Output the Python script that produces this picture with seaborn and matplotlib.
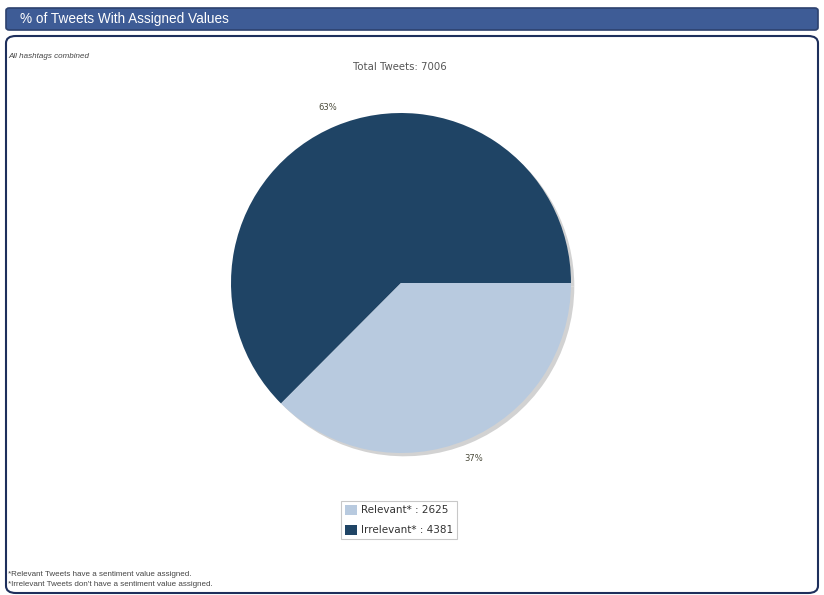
import matplotlib
matplotlib.use("Agg")
import matplotlib.pyplot as plt
import seaborn as sns
from matplotlib.patches import FancyBboxPatch

# data
labels = ["Irrelevant*", "Relevant*"]
counts = [4381, 2625]
colors = ["#1f4465", "#b8cadf"]
legend_order = [1, 0]

total = sum(counts)

sns.set_theme(style="white")
plt.rcParams['font.family'] = ['DejaVu Sans']

W, H = 824, 595
fig = plt.figure(figsize=(W / 100, H / 100), dpi=100)


def fx(px):
    return px / W


def fy(py):
    return 1 - py / H


# header bar
fig.patches.append(FancyBboxPatch((fx(6), fy(30)), fx(812), 22 / H,
                                  boxstyle="round,pad=0,rounding_size=0.004",
                                  transform=fig.transFigure, facecolor="#3e5c96",
                                  edgecolor="#2c416e", linewidth=1.2))
fig.text(fx(20), fy(19), "% of Tweets With Assigned Values", color="white",
         fontsize=9.8, family="Liberation Sans", va="center", ha="left")

# body frame
fig.patches.append(FancyBboxPatch((fx(6), fy(593)), fx(812), 557 / H,
                                  boxstyle="round,pad=0,rounding_size=0.012",
                                  transform=fig.transFigure, facecolor="none",
                                  edgecolor="#1e2f5c", linewidth=1.5, zorder=-1))

fig.text(fx(8), fy(56), "All hashtags combined", fontsize=5.8, style="italic",
         family="Liberation Sans", color="#444444", va="center")
fig.text(fx(400), fy(67), f"Total Tweets: {total}", fontsize=7.3,
         color="#555555", ha="center", va="center")

fig.text(fx(8), fy(574), "*Relevant Tweets have a sentiment value assigned.",
         fontsize=5.8, family="Liberation Sans", color="#444444", va="center")
fig.text(fx(8), fy(584), "*Irrelevant Tweets don't have a sentiment value assigned.",
         fontsize=5.8, family="Liberation Sans", color="#444444", va="center")

# pie
cx, cy, r = 401, 283, 170
half = 1.25 * r
ax = fig.add_axes([fx(cx - half), fy(cy + half), 2 * half / W, 2 * half / H])
wedges, texts, autotexts = ax.pie(
    counts, colors=colors, startangle=0, counterclock=True,
    autopct=lambda p: f"{p:.0f}%", pctdistance=1.12,
    wedgeprops=dict(linewidth=0),
    shadow=dict(ox=0.014, oy=-0.014, facecolor="#d2d2d2", edgecolor="none", alpha=1),
    textprops=dict(fontsize=6, color="#4a4a3a"))
ax.set_xlim(-1.25, 1.25)
ax.set_ylim(-1.25, 1.25)
ax.set_aspect("equal")
ax.axis("off")

leg = fig.legend([wedges[i] for i in legend_order],
                 [f"{labels[i]} : {counts[i]}" for i in legend_order],
                 loc="center", bbox_to_anchor=(fx(399), fy(520)),
                 fontsize=7.5, frameon=True, fancybox=False,
                 edgecolor="#bbbbbb", handlelength=1.1, handleheight=1.1,
                 handletextpad=0.4, borderpad=0.35, labelspacing=0.9)
leg.get_frame().set_linewidth(0.8)
for t in leg.get_texts():
    t.set_color("#333333")

fig.savefig("out.png", dpi=100)
